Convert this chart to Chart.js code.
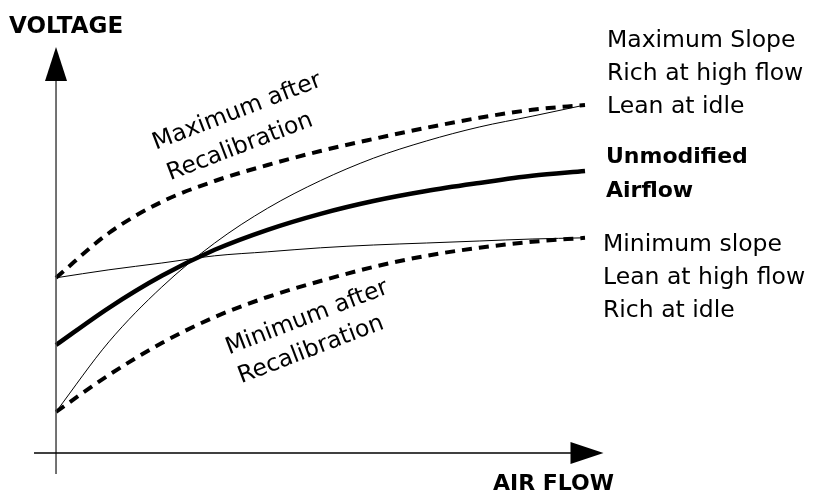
<!DOCTYPE html>
<html>
<head>
<meta charset="utf-8">
<script src="https://cdn.jsdelivr.net/npm/chart.js@4/dist/chart.umd.min.js"></script>
<style>
  html, body { margin: 0; padding: 0; background: #fff; }
  #wrap { width: 813px; height: 493px; }
</style>
</head>
<body>
<div id="wrap"><canvas id="lineChart" width="813" height="493"></canvas></div>
<script>
// air flow (arbitrary units) and voltage readings for each curve
const airFlow       = [0, 1, 2, 3, 4, 5, 6, 7, 8, 9, 10];
const maxAfterRecal = [4.38, 5.5, 6.28, 6.8, 7.2, 7.55, 7.85, 8.13, 8.38, 8.58, 8.7];
const maxSlope      = [1.03, 2.78, 4.15, 5.25, 6.12, 6.81, 7.37, 7.8, 8.15, 8.42, 8.7];
const unmodified    = [2.7, 3.63, 4.43, 5.08, 5.58, 5.98, 6.3, 6.55, 6.75, 6.93, 7.05];
const minSlope      = [4.38, 4.58, 4.75, 4.93, 5.03, 5.13, 5.2, 5.25, 5.3, 5.35, 5.38];
const minAfterRecal = [1.03, 1.95, 2.75, 3.4, 3.9, 4.3, 4.65, 4.93, 5.13, 5.28, 5.38];

const xAxisTitle = "AIR FLOW";
const yAxisTitle = "VOLTAGE";
const maxSlopeNote = ["Maximum Slope", "Rich at high flow", "Lean at idle"];
const unmodNote    = ["Unmodified", "Airflow"];
const minSlopeNote = ["Minimum slope", "Lean at high flow", "Rich at idle"];
const maxRecalNote = ["Maximum after", "Recalibration"];
const minRecalNote = ["Minimum after", "Recalibration"];

const pts = arr => arr.map((v, i) => ({ x: airFlow[i], y: v }));

function line(data, width, dashed) {
    return {
        data: pts(data),
        borderColor: "#000",
        borderWidth: width,
        borderDash: dashed ? [10, 7] : [],
        pointRadius: 0,
        cubicInterpolationMode: 'monotone',
        fill: false
    };
}

const FONT = '"DejaVu Sans", Verdana, sans-serif';

// axes with arrow heads + annotation texts
const diagram = {
    id: 'diagram',
    afterDatasetsDraw(chart) {
        const ctx = chart.ctx;
        const xs = chart.scales.x, ys = chart.scales.y;
        const ox = xs.getPixelForValue(0), oy = ys.getPixelForValue(0);
        const endX = xs.getPixelForValue(10);
        ctx.save();

        // vertical axis
        const vTip = ys.getPixelForValue(10.15);
        ctx.strokeStyle = "#444";
        ctx.lineWidth = 1.5;
        ctx.beginPath();
        ctx.moveTo(ox, oy + 21);
        ctx.lineTo(ox, vTip + 30);
        ctx.stroke();
        ctx.fillStyle = "#000";
        ctx.beginPath();
        ctx.moveTo(ox, vTip);
        ctx.lineTo(ox - 11, vTip + 34);
        ctx.lineTo(ox + 11, vTip + 34);
        ctx.closePath();
        ctx.fill();

        // horizontal axis
        const hTip = xs.getPixelForValue(10.35);
        ctx.strokeStyle = "#000";
        ctx.beginPath();
        ctx.moveTo(ox - 22, oy);
        ctx.lineTo(hTip - 30, oy);
        ctx.stroke();
        ctx.beginPath();
        ctx.moveTo(hTip, oy);
        ctx.lineTo(hTip - 33, oy - 11);
        ctx.lineTo(hTip - 33, oy + 11);
        ctx.closePath();
        ctx.fill();

        // axis titles
        ctx.fillStyle = "#000";
        ctx.textAlign = "left";
        ctx.textBaseline = "alphabetic";
        ctx.font = "bold 23px " + FONT;
        ctx.fillText(yAxisTitle, 9, 33);
        ctx.font = "bold 22px " + FONT;
        ctx.fillText(xAxisTitle, 493, 490);

        // right-hand notes
        ctx.font = "23.5px " + FONT;
        maxSlopeNote.forEach((t, i) => ctx.fillText(t, endX + 22, 47 + i * 33));
        minSlopeNote.forEach((t, i) => ctx.fillText(t, endX + 18, 251 + i * 33));
        ctx.font = "bold 22px " + FONT;
        unmodNote.forEach((t, i) => ctx.fillText(t, endX + 21, 163 + i * 34));

        // rotated notes
        ctx.font = "23.5px " + FONT;
        ctx.textAlign = "center";
        ctx.textBaseline = "middle";
        const rot = (t, x, y) => {
            ctx.save();
            ctx.translate(x, y);
            ctx.rotate(-21 * Math.PI / 180);
            ctx.fillText(t, 0, 0);
            ctx.restore();
        };
        rot(maxRecalNote[0], 237, 112);
        rot(maxRecalNote[1], 240, 147);
        rot(minRecalNote[0], 307, 318);
        rot(minRecalNote[1], 311, 350);

        ctx.restore();
    }
};

new Chart(document.getElementById("lineChart"), {
    type: 'line',
    data: {
        datasets: [
            line(maxAfterRecal, 4, true),
            line(maxSlope, 1, false),
            line(unmodified, 4.5, false),
            line(minSlope, 1, false),
            line(minAfterRecal, 4, true)
        ]
    },
    options: {
        responsive: false,
        animation: false,
        layout: { padding: 0 },
        plugins: {
            legend: { display: false },
            tooltip: { enabled: false },
            title: { display: false }
        },
        scales: {
            x: { type: 'linear', display: false, min: -1.059, max: 14.31 },
            y: { type: 'linear', display: false, min: -1.0, max: 11.325 }
        }
    },
    plugins: [diagram]
});
</script>
</body>
</html>
